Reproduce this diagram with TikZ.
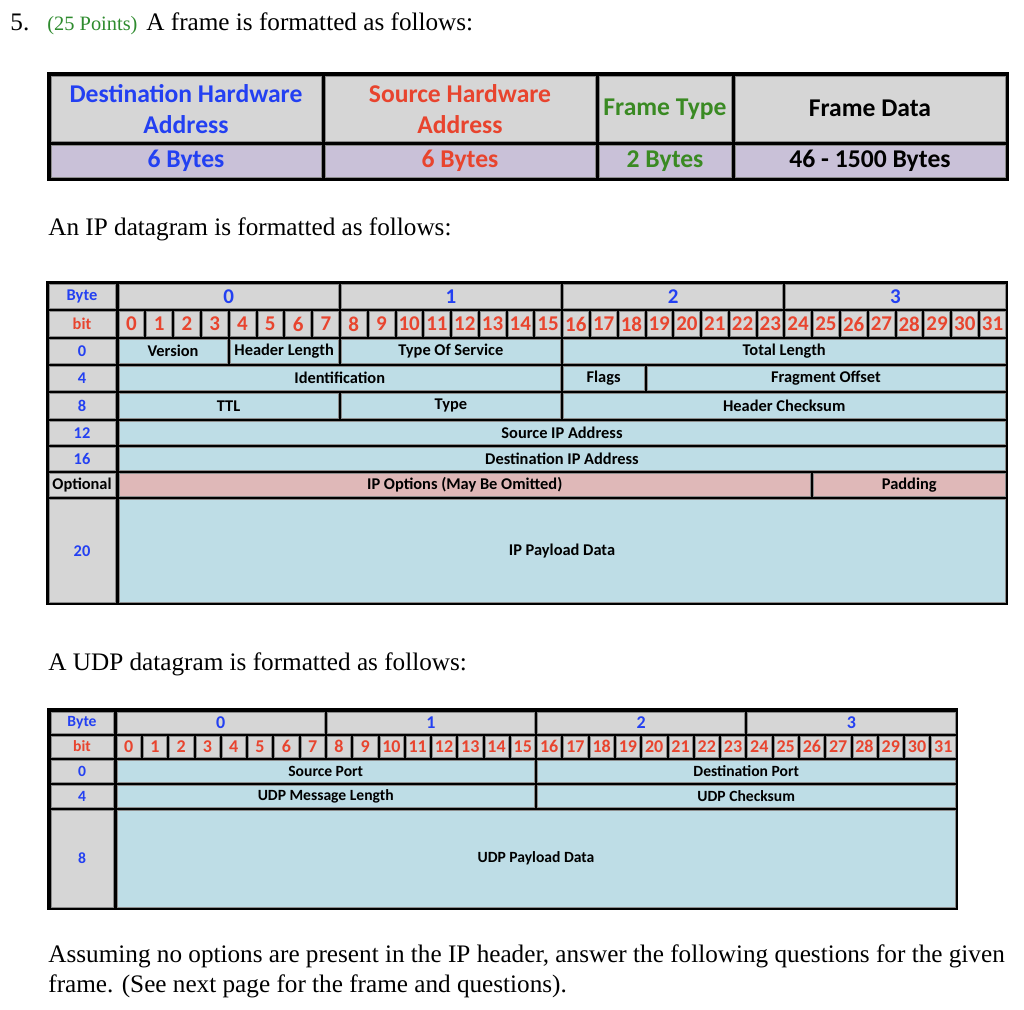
\documentclass[tikz,border=0pt]{standalone}
\usepackage{fontspec}
\setmainfont{Liberation Serif}
\newfontfamily\calfont{Carlito}
\usepackage{tikz}
\definecolor{hdblue}{HTML}{2340F2}
\definecolor{hdred}{HTML}{E8442E}
\definecolor{hdgreen}{HTML}{3A8A23}
\definecolor{ptgreen}{HTML}{2E8B2E}
\definecolor{cellgray}{HTML}{D6D6D6}
\definecolor{celllav}{HTML}{C9C1D8}
\definecolor{cellblue}{HTML}{BEDDE6}
\definecolor{cellpink}{HTML}{DFB8B8}
\definecolor{cellline}{HTML}{8C8C8C}
% one table cell: name, style, x1, y1, x2, y2, text (pixel units)
\newcommand{\cgap}{1.5pt}
\newcommand{\tcell}[7]{\node[#2, minimum width={(#5-(#3))*0.5pt-\cgap}, minimum height={(#6-(#4))*0.5pt-\cgap}] (#1) at ({((#3)+(#5))/2},{((#4)+(#6))/2}) {#7};}
% a field spanning bits b1..b2 of a 32 bit row
\newcommand{\bfld}[7]{\tcell{#1}{#2}{\xo+(#3)*\bw}{#5}{\xo+(#4)*\bw}{#6}{#7}}

\begin{document}
\begin{tikzpicture}[x=0.5pt, y=-0.5pt,
  body/.style={font=\fontsize{12.6}{15}\selectfont, inner sep=0pt, anchor=base west},
  c/.style={draw=cellline, line width=0.3pt, inner sep=0pt, outer sep=0pt, align=center},
  hd/.style={c, fill=cellgray},
  lav/.style={c, fill=celllav},
  lab/.style={c, fill=cellgray},
  byt/.style={c, fill=cellgray, text=hdblue},
  bitn/.style={c, fill=cellgray, text=hdred},
  fb/.style={c, fill=cellblue},
  fp/.style={c, fill=cellpink}]
  \useasboundingbox (0,0) rectangle (1024,1010);
  % ---- text ----
  \node[body] (qno) at (10,31) {5.};
  \node[body, font=\fontsize{10.2}{12}\selectfont, text=ptgreen] (qpts) at (47,31) {(25 Points)};
  \node[body] (qfr) at (146,31) {A frame is formatted as follows:};
  \node[body] (qip) at (48,236) {An IP datagram is formatted as follows:};
  \node[body] (qudp) at (48,671) {A UDP datagram is formatted as follows:};
  \node[body] (qend) at (48,962) {Assuming no options are present in the IP header, answer the following questions for the given};
  \node[body] (qend2) at (48,992) {frame. (See next page for the frame and questions).};
  % ---- Frame ----
  \begin{scope}[font=\calfont\bfseries\fontsize{12.8}{15.5}\selectfont]
    \renewcommand{\cgap}{2pt}
    \fill (47,72) rectangle (1009,181);
    \foreach \nm/\xa/\xb/\txt/\cl in {dst/49/323/{Destination Hardware\\Address}/hdblue, src/323/597/{Source Hardware\\Address}/hdred, typ/597/733/Frame Type/hdgreen, dat/733/1007/Frame Data/black} { \tcell{fr\nm}{hd, text=\cl}{\xa}{74}{\xb}{143.5}{\txt} }
    \foreach \nm/\xa/\xb/\txt/\cl in {dst/49/323/6 Bytes/hdblue, src/323/597/6 Bytes/hdred, typ/597/733/2 Bytes/hdgreen, dat/733/1007/46 - 1500 Bytes/black} { \tcell{fs\nm}{lav, text=\cl}{\xa}{143.5}{\xb}{179}{\txt} }
  \end{scope}
  % ---- IP datagram ----
  \begin{scope}[font=\calfont\bfseries\fontsize{8.2}{10}\selectfont]
    \def\xo{117.5}\def\bw{27.78}
    \fill (46,281) rectangle (1008,605);
    \foreach \nm/\ya/\yb/\txt/\cl in {byte/283/310/Byte/hdblue, bit/310/338/bit/hdred, r0/338/364.5/0/hdblue, r4/364.5/391.5/4/hdblue, r8/391.5/420/8/hdblue, r12/420/446/12/hdblue, r16/446/472/16/hdblue, opt/472/498/Optional/black, r20/498/603.5/20/hdblue} { \tcell{ip\nm}{lab, text=\cl}{47.5}{\ya}{116.5}{\yb}{\txt} }
    \foreach \i in {0,...,3} { \bfld{ipby\i}{byt, font=\calfont\bfseries\fontsize{10.5}{12}\selectfont}{\i*8}{\i*8+8}{283}{310}{\i} }
    \foreach \i in {0,...,31} { \bfld{ipbt\i}{bitn, font=\calfont\bfseries\fontsize{10.5}{12}\selectfont}{\i}{\i+1}{310}{338}{\i} }
    \foreach \nm/\a/\b/\ya/\yb/\s/\txt in {ver/0/4/338/364.5/fb/Version, hlen/4/8/338/364.5/fb/Header Length, tos/8/16/338/364.5/fb/Type Of Service, tlen/16/32/338/364.5/fb/Total Length,
      iden/0/16/364.5/391.5/fb/Identification, flg/16/19/364.5/391.5/fb/Flags, frag/19/32/364.5/391.5/fb/Fragment Offset,
      ttl/0/8/391.5/420/fb/TTL, typ/8/16/391.5/420/fb/Type, hck/16/32/391.5/420/fb/Header Checksum,
      sip/0/32/420/446/fb/Source IP Address, dip/0/32/446/472/fb/Destination IP Address,
      opts/0/25/472/498/fp/IP Options (May Be Omitted), pad/25/32/472/498/fp/Padding,
      pay/0/32/498/603.5/fb/IP Payload Data} { \bfld{ip\nm}{\s}{\a}{\b}{\ya}{\yb}{\txt} }
  \end{scope}
  % ---- UDP datagram ----
  \begin{scope}[font=\calfont\bfseries\fontsize{7.8}{9.5}\selectfont]
    \def\xo{115.5}\def\bw{26.28}
    \fill (47,708) rectangle (958,910);
    \foreach \nm/\ya/\yb/\txt/\cl in {byte/710.5/734.5/Byte/hdblue, bit/734.5/758.5/bit/hdred, r0/758.5/783.5/0/hdblue, r4/783.5/808.5/4/hdblue, r8/808.5/908.5/8/hdblue} { \tcell{ud\nm}{lab, text=\cl}{49.5}{\ya}{114.5}{\yb}{\txt} }
    \foreach \i in {0,...,3} { \bfld{udby\i}{byt, font=\calfont\bfseries\fontsize{9}{11}\selectfont}{\i*8}{\i*8+8}{710.5}{734.5}{\i} }
    \foreach \i in {0,...,31} { \bfld{udbt\i}{bitn, font=\calfont\bfseries\fontsize{9}{11}\selectfont}{\i}{\i+1}{734.5}{758.5}{\i} }
    \foreach \nm/\a/\b/\ya/\yb/\txt in {sprt/0/16/758.5/783.5/Source Port, dprt/16/32/758.5/783.5/Destination Port, mlen/0/16/783.5/808.5/UDP Message Length, cks/16/32/783.5/808.5/UDP Checksum, pay/0/32/808.5/908.5/UDP Payload Data} { \bfld{ud\nm}{fb}{\a}{\b}{\ya}{\yb}{\txt} }
  \end{scope}
\end{tikzpicture}
\end{document}
